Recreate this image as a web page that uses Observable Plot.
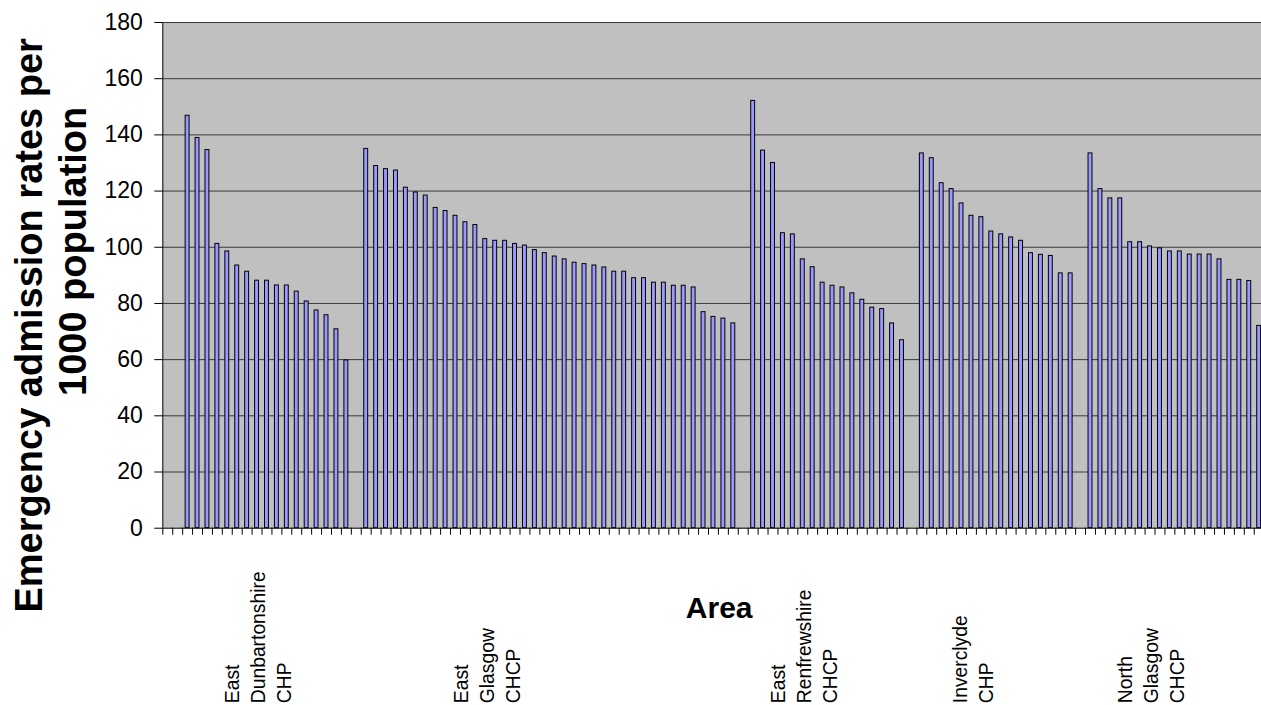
<!DOCTYPE html>
<html>
<head>
<meta charset="utf-8">
<script src="https://cdn.jsdelivr.net/npm/d3@7"></script>
<script src="https://cdn.jsdelivr.net/npm/@observablehq/plot@0.6"></script>
<style>
  html, body { margin: 0; padding: 0; background: #ffffff; }
  #chart { width: 1261px; height: 705px; overflow: hidden; position: relative; }
  #chart svg { display: block; }
</style>
</head>
<body>
<div id="chart"></div>
<script>
// ---- Data ----
const areaNames = [
  "East\nDunbartonshire\nCHP",
  "East\nGlasgow\nCHCP",
  "East\nRenfrewshire\nCHCP",
  "Inverclyde\nCHP",
  "North\nGlasgow\nCHCP"
];
// index (within each area's run of bars) of the category that carries the area label
const labelIndex = [7, 12, 5, 5, 6];

const eastDunbartonshire = [146.8, 138.9, 134.6, 101.2, 98.5, 93.5, 91.3, 88.1, 88.1, 86.4, 86.4, 84.2, 80.7, 77.5, 75.8, 70.8, 59.7];
const eastGlasgow = [135.0, 128.9, 127.8, 127.3, 121.2, 119.5, 118.4, 114.0, 112.9, 111.2, 108.9, 107.9, 102.9, 102.3, 102.3, 101.2, 100.6, 99.0, 97.9, 96.7, 95.7, 94.5, 94.0, 93.5, 92.8, 91.3, 91.3, 89.0, 89.0, 87.4, 87.4, 86.3, 86.3, 85.7, 76.9, 75.2, 74.6, 72.9];
const eastRenfrewshire = [152.1, 134.4, 130.0, 105.0, 104.6, 95.7, 92.9, 87.4, 86.3, 85.7, 83.6, 81.3, 78.5, 78.0, 72.9, 66.9];
const inverclyde = [133.4, 131.7, 122.8, 120.7, 115.6, 111.2, 110.7, 105.6, 104.6, 103.5, 102.3, 97.9, 97.3, 96.9, 90.7, 90.7];
const northGlasgow = [133.4, 120.7, 117.4, 117.4, 101.8, 101.8, 100.3, 99.6, 98.5, 98.5, 97.4, 97.4, 97.4, 95.7, 88.4, 88.4, 88.0, 72.0];

const seriesByArea = [eastDunbartonshire, eastGlasgow, eastRenfrewshire, inverclyde, northGlasgow];
const leadingBlankCategories = 2;   // empty categories before the first area
const blankCategoriesBetween = 1;   // empty category separating areas

const yTicks = [0, 20, 40, 60, 80, 100, 120, 140, 160, 180];
const yTitleLines = ["Emergency admission rates per", "1000 population"];
const xTitle = "Area";

// ---- Build the category table ----
const bars = [];
const labels = [];
let slot = leadingBlankCategories;
seriesByArea.forEach((vals, g) => {
  vals.forEach((v, i) => {
    bars.push({slot, value: v, area: areaNames[g]});
    if (i === labelIndex[g]) labels.push({slot, name: areaNames[g]});
    slot++;
  });
  slot += blankCategoriesBetween;
});
const nSlots = slot; // total categories incl. trailing blank

const W = 1261, H = 705;
const mLeft = 162.3, mTop = 22, mBottom = 177.3, mRight = 0;
const slotWidth = 9.922;
const visibleSlots = (W - mLeft - mRight) / slotWidth;

const font = "'Liberation Sans', Arial, Helvetica, sans-serif";

const titleStyle = {
  frameAnchor: "left",
  rotate: -90,
  fontSize: 38,
  fontWeight: "bold",
  textAnchor: "middle",
  lineAnchor: "middle",
  fill: "#000000"
};

const chart = Plot.plot({
  width: W,
  height: H,
  marginLeft: mLeft,
  marginRight: mRight,
  marginTop: mTop,
  marginBottom: mBottom,
  style: { fontFamily: font, background: "#ffffff", color: "#000000", overflow: "hidden" },
  x: { type: "linear", domain: [0, visibleSlots] },
  y: { domain: [0, 180] },
  marks: [
    Plot.frame({ fill: "#c0c0c0", stroke: null }),
    Plot.ruleY(yTicks.filter(d => d > 0), { stroke: "#3a3a3a", strokeWidth: 1 }),
    Plot.rectY(bars, {
      x1: "slot",
      x2: d => d.slot + 1,
      y: "value",
      insetLeft: 3.0,
      insetRight: 3.0,
      fill: "#9999ff",
      stroke: "#000000",
      strokeWidth: 1
    }),
    Plot.ruleX([0], { stroke: "#000000", strokeWidth: 1 }),
    Plot.ruleY([0], { stroke: "#000000", strokeWidth: 1 }),
    Plot.axisY({
      ticks: yTicks,
      tickSize: 8,
      tickPadding: 12,
      fontSize: 23,
      label: null,
      stroke: "#000000"
    }),
    Plot.axisX({
      ticks: d3.range(0, nSlots + 1),
      tickSize: 7,
      tickFormat: () => "",
      label: null,
      stroke: "#000000"
    }),
    Plot.text(labels, {
      x: d => d.slot + 0.5,
      text: "name",
      frameAnchor: "bottom",
      dy: 175,
      rotate: -90,
      textAnchor: "start",
      lineAnchor: "middle",
      lineHeight: 1.35,
      fontSize: 19.3,
      fill: "#000000"
    }),
    Plot.text([xTitle], {
      text: d => d,
      frameAnchor: "bottom",
      dx: 7,
      dy: 80,
      fontSize: 30,
      fontWeight: "bold",
      textAnchor: "middle",
      lineAnchor: "middle",
      fill: "#000000"
    }),
    Plot.text([yTitleLines[0]], { ...titleStyle, text: d => d, dx: -mLeft + 29, dy: 50 }),
    Plot.text([yTitleLines[1]], { ...titleStyle, text: d => d, dx: -mLeft + 73, dy: -24 })
  ]
});

document.getElementById("chart").appendChild(chart);
</script>
</body>
</html>
